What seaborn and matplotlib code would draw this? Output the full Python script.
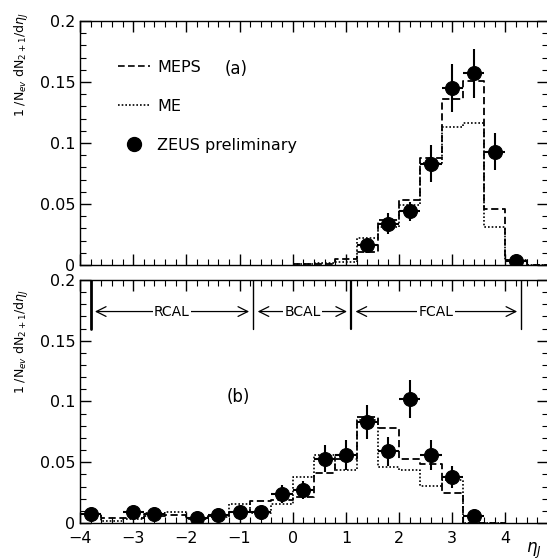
import numpy as np
import pandas as pd
import seaborn as sns
import matplotlib.pyplot as plt
from matplotlib.lines import Line2D
from matplotlib.ticker import MultipleLocator, FuncFormatter

# panel (a): model histograms
edges_a = [0.0, 0.4, 0.8, 1.2, 1.6, 2.0, 2.4, 2.8, 3.2, 3.6, 4.0, 4.4, 4.8]
meps_a = [0.0005, 0.001, 0.0047, 0.011, 0.037, 0.053, 0.088, 0.136, 0.151, 0.046, 0.004, 0.0]
me_a = [0.001, 0.002, 0.0027, 0.022, 0.031, 0.049, 0.084, 0.113, 0.116, 0.031, 0.004, 0.0]

# panel (a): ZEUS data
eta_a = [1.4, 1.8, 2.2, 2.6, 3.0, 3.4, 3.8, 4.2]
zeus_a = [0.016, 0.034, 0.044, 0.083, 0.145, 0.157, 0.093, 0.0035]
err_a = [0.006, 0.009, 0.008, 0.015, 0.02, 0.02, 0.015, 0.002]

# panel (b): model histograms
edges_b = [-4.0, -3.6, -3.2, -2.8, -2.4, -2.0, -1.6, -1.2, -0.8, -0.4, 0.0,
           0.4, 0.8, 1.2, 1.6, 2.0, 2.4, 2.8, 3.2, 3.6, 4.0]
meps_b = [0.007, 0.004, 0.004, 0.006, 0.0066, 0.003, 0.006, 0.009, 0.018, 0.019,
          0.021, 0.041, 0.053, 0.0875, 0.078, 0.053, 0.0486, 0.0244, 0.0, 0.0]
me_b = [0.007, 0.002, 0.003, 0.008, 0.0088, 0.004, 0.005, 0.016, 0.0085, 0.016,
        0.0376, 0.056, 0.0436, 0.085, 0.046, 0.0436, 0.0305, 0.0354, 0.0, 0.0]

# panel (b): ZEUS data
eta_b = [-3.8, -3.0, -2.6, -1.8, -1.4, -1.0, -0.6, -0.2, 0.2, 0.6, 1.0, 1.4, 1.8, 2.2, 2.6, 3.0, 3.4]
zeus_b = [0.007, 0.009, 0.007, 0.004, 0.0066, 0.009, 0.009, 0.024, 0.027, 0.053,
          0.056, 0.083, 0.059, 0.102, 0.056, 0.038, 0.006]
err_b = [0.002, 0.002, 0.002, 0.002, 0.002, 0.003, 0.003, 0.0075, 0.0075, 0.011,
         0.012, 0.014, 0.012, 0.016, 0.012, 0.009, 0.002]

# calorimeter regions
cal_names = ['RCAL', 'BCAL', 'FCAL']
cal_bounds = [-3.8, -0.74, 1.1, 4.3]
cal_widths = [2.0, 1.0, 1.6, 1.0]

sns.set_style('ticks')
plt.rcParams['font.family'] = ['DejaVu Sans']
plt.rcParams['mathtext.fontset'] = 'dejavusans'
plt.rcParams['text.color'] = 'black'
plt.rcParams['xtick.color'] = 'black'
plt.rcParams['ytick.color'] = 'black'
plt.rcParams['axes.labelcolor'] = 'black'
plt.rcParams['axes.edgecolor'] = 'black'

fig = plt.figure(figsize=(5.47, 5.6), dpi=100)
ax_a = fig.add_axes([0.1463, 0.5268, 0.8556, 0.4357])
ax_b = fig.add_axes([0.1463, 0.0661, 0.8556, 0.434])

ylab = r'1 /N$_{ev}$ dN$_{2+1}$/d$\eta_J$'


def draw_panel(ax, edges, meps, me, eta, zeus, err):
    e = np.array(edges)
    hist = pd.DataFrame({'eta': (e[:-1] + e[1:]) / 2, 'meps': meps, 'me': me})
    sns.histplot(data=hist, x='eta', weights='meps', bins=edges, element='step', fill=False,
                 color='k', linestyle=(0, (4, 2)), linewidth=1.3, ax=ax)
    sns.histplot(data=hist, x='eta', weights='me', bins=edges, element='step', fill=False,
                 color='k', linestyle=(0, (1, 1.2)), linewidth=1.2, ax=ax)
    ax.errorbar(eta, zeus, yerr=err, xerr=0.2, fmt='none', ecolor='k', elinewidth=1.5)
    sns.scatterplot(x=eta, y=zeus, color='k', s=100, edgecolor='k', ax=ax, zorder=5)
    ax.set_xlim(-4.0, 4.8)
    ax.set_ylim(0, 0.2)
    ax.xaxis.set_major_locator(MultipleLocator(1))
    ax.xaxis.set_minor_locator(MultipleLocator(0.2))
    ax.yaxis.set_major_locator(MultipleLocator(0.05))
    ax.yaxis.set_minor_locator(MultipleLocator(0.01))
    ax.yaxis.set_major_formatter(FuncFormatter(lambda v, p: '%g' % round(v, 3)))
    ax.tick_params(which='both', direction='in', top=True, right=True, labelsize=11.5)
    ax.tick_params(which='major', length=8, width=1)
    ax.tick_params(which='minor', length=4, width=0.8)
    ax.tick_params(axis='x', pad=6)
    ax.set_xlabel('')
    ax.set_ylabel(ylab, fontsize=9, loc='top')
    for s in ax.spines.values():
        s.set_linewidth(1.0)


draw_panel(ax_a, edges_a, meps_a, me_a, eta_a, zeus_a, err_a)
draw_panel(ax_b, edges_b, meps_b, me_b, eta_b, zeus_b, err_b)
ax_a.tick_params(labelbottom=False)
ax_a.yaxis.set_label_coords(-0.105, 1.035)
ax_b.yaxis.set_label_coords(-0.105, 0.96)

handles = [Line2D([], [], color='k', ls=(0, (4, 2)), lw=1.2),
           Line2D([], [], color='k', ls=(0, (1, 1.2)), lw=1.2),
           Line2D([], [], color='k', marker='o', ls='none', markersize=10)]
ax_a.legend(handles, ['MEPS', 'ME', 'ZEUS preliminary'], loc='upper left',
            bbox_to_anchor=(0.081, 0.84), frameon=False, fontsize=11.5,
            handlelength=2.0, handletextpad=0.45, labelspacing=1.5,
            borderpad=0, borderaxespad=0)
ax_a.text(-1.07, 0.161, '(a)', fontsize=12, ha='center', va='center')
ax_b.text(-1.03, 0.104, '(b)', fontsize=12, ha='center', va='center')

# calorimeter boundaries and arrows
for b, w in zip(cal_bounds, cal_widths):
    ax_b.plot([b, b], [0.16, 0.2], color='k', lw=w)
for i, name in enumerate(cal_names):
    x0, x1 = cal_bounds[i] + 0.08, cal_bounds[i + 1] - 0.08
    ax_b.annotate('', xy=(x1, 0.174), xytext=(x0, 0.174),
                  arrowprops=dict(arrowstyle='<->, head_length=0.7, head_width=0.35',
                                  color='k', lw=0.9, shrinkA=0, shrinkB=0))
    ax_b.text((x0 + x1) / 2, 0.174, name, fontsize=10, ha='center', va='center',
              bbox=dict(facecolor='white', edgecolor='none', pad=1))

fig.text(0.975, 0.016, r'$\eta_J$', fontsize=12, ha='center', va='center')

fig.savefig('out.png', dpi=100)
